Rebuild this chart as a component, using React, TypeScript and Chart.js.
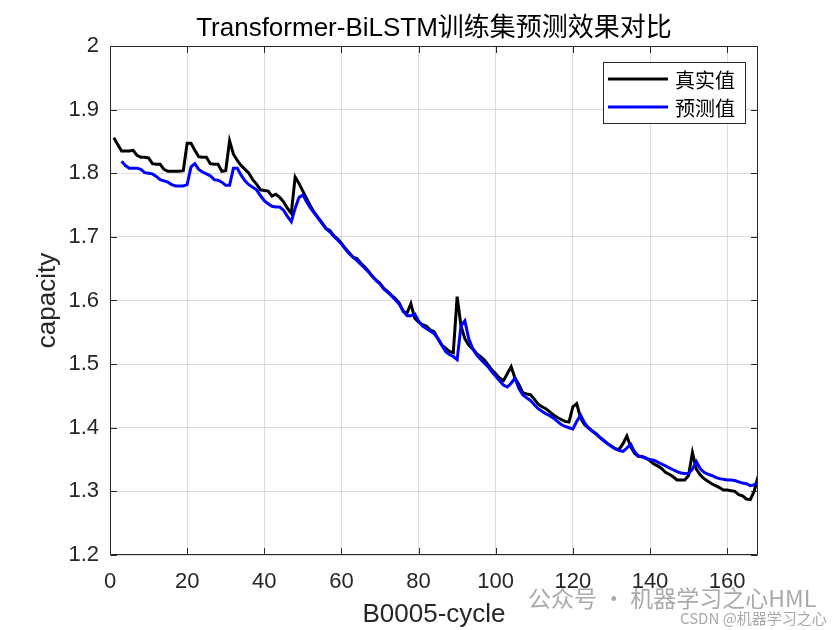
import React, { useEffect, useRef } from 'react';
import { Chart, registerables } from 'chart.js';

Chart.register(...registerables);

// ---------- data ----------
const actualStartCycle = 1;
const actualCapacity = [
  1.856, 1.845, 1.835, 1.835, 1.835, 1.836, 1.828, 1.825, 1.825, 1.824,
  1.815, 1.814, 1.814, 1.806, 1.803, 1.803, 1.803, 1.803, 1.804, 1.847,
  1.847, 1.836, 1.826, 1.825, 1.825, 1.815, 1.814, 1.814, 1.803, 1.804,
  1.851, 1.830, 1.820, 1.812, 1.806, 1.800, 1.790, 1.783, 1.774, 1.773,
  1.772, 1.764, 1.767, 1.762, 1.755, 1.745, 1.737, 1.794, 1.784, 1.772,
  1.760, 1.748, 1.738, 1.730, 1.722, 1.713, 1.710, 1.702, 1.697, 1.690,
  1.682, 1.675, 1.668, 1.666, 1.659, 1.653, 1.646, 1.638, 1.632, 1.627,
  1.619, 1.614, 1.608, 1.603, 1.596, 1.583, 1.580, 1.595, 1.572, 1.566,
  1.562, 1.560, 1.554, 1.551, 1.540, 1.530, 1.525, 1.520, 1.518, 1.606,
  1.560, 1.540, 1.530, 1.524, 1.517, 1.512, 1.507, 1.499, 1.491, 1.485,
  1.478, 1.474, 1.485, 1.496, 1.478, 1.468, 1.455, 1.453, 1.452, 1.445,
  1.437, 1.433, 1.430, 1.425, 1.420, 1.416, 1.413, 1.410, 1.409, 1.433,
  1.438, 1.415, 1.405, 1.400, 1.395, 1.390, 1.385, 1.380, 1.375, 1.371,
  1.367, 1.366, 1.375, 1.387, 1.370, 1.360, 1.355, 1.355, 1.352, 1.348,
  1.343, 1.340, 1.336, 1.330, 1.327, 1.323, 1.318, 1.318, 1.318, 1.325,
  1.361, 1.335, 1.326, 1.320, 1.316, 1.312, 1.309, 1.306, 1.302, 1.302,
  1.301, 1.300, 1.295, 1.293, 1.288, 1.287, 1.300, 1.323,
];

const predictedStartCycle = 3;
const predictedCapacity = [
  1.819, 1.812, 1.808, 1.808, 1.808, 1.806, 1.801, 1.800, 1.799, 1.795,
  1.790, 1.788, 1.786, 1.782, 1.780, 1.780, 1.780, 1.782, 1.810, 1.815,
  1.806, 1.802, 1.799, 1.796, 1.790, 1.789, 1.786, 1.781, 1.781, 1.808,
  1.808, 1.797, 1.788, 1.782, 1.778, 1.774, 1.765, 1.757, 1.752, 1.748,
  1.747, 1.747, 1.742, 1.732, 1.724, 1.745, 1.762, 1.766, 1.755, 1.745,
  1.737, 1.729, 1.721, 1.713, 1.708, 1.701, 1.695, 1.689, 1.681, 1.674,
  1.668, 1.663, 1.657, 1.651, 1.645, 1.638, 1.631, 1.626, 1.618, 1.613,
  1.607, 1.601, 1.594, 1.584, 1.576, 1.576, 1.579, 1.568, 1.560, 1.556,
  1.552, 1.548, 1.541, 1.530, 1.520, 1.515, 1.512, 1.507, 1.560, 1.568,
  1.540, 1.525, 1.515, 1.508, 1.502, 1.496, 1.488, 1.481, 1.474, 1.467,
  1.464, 1.470, 1.478, 1.462, 1.452, 1.447, 1.443, 1.436, 1.430, 1.426,
  1.422, 1.419, 1.415, 1.410, 1.405, 1.402, 1.400, 1.398, 1.410, 1.420,
  1.408, 1.400, 1.395, 1.391, 1.385, 1.380, 1.375, 1.371, 1.367, 1.364,
  1.363, 1.368, 1.374, 1.362, 1.356, 1.354, 1.352, 1.350, 1.349, 1.346,
  1.343, 1.340, 1.337, 1.334, 1.331, 1.329, 1.328, 1.328, 1.335, 1.347,
  1.336, 1.330, 1.327, 1.325, 1.322, 1.320, 1.319, 1.318, 1.318, 1.317,
  1.315, 1.313, 1.312, 1.309, 1.310, 1.315,
];

const seriesLabels = ['真实值', '预测值'];
const xTickValues = [0, 20, 40, 60, 80, 100, 120, 140, 160];
const yTickValues = [1.2, 1.3, 1.4, 1.5, 1.6, 1.7, 1.8, 1.9, 2.0];
const yTickLabels = ['1.2', '1.3', '1.4', '1.5', '1.6', '1.7', '1.8', '1.9', '2'];
const xRange = [0, 168];
const yRange = [1.2, 2.0];
const chartTitle = 'Transformer-BiLSTM训练集预测效果对比';
const xAxisTitle = 'B0005-cycle';
const yAxisTitle = 'capacity';
const watermarkMain = '公众号 · 机器学习之心HML';
const watermarkSub = 'CSDN @机器学习之心';

const SANS = '"Liberation Sans", Arial, "Noto Sans CJK SC", sans-serif';
const AXIS = '#262626';

const toPoints = (start: number, values: number[]) =>
  values.map((v, i) => ({ x: start + i, y: v }));

const framePlugin = {
  id: 'matlabFrame',
  afterDraw(chart: any) {
    const { ctx, chartArea } = chart;
    const { left, right, top, bottom } = chartArea;
    const xs = chart.scales.x;
    const ys = chart.scales.y;
    ctx.save();
    ctx.strokeStyle = AXIS;
    ctx.lineWidth = 1;
    const L = Math.round(left) + 0.5;
    const R = Math.round(right) - 0.5;
    const T = Math.round(top) + 0.5;
    const B = Math.round(bottom) - 0.5;
    ctx.beginPath();
    ctx.rect(L, T, R - L, B - T);
    // inward ticks
    const tl = 6.5;
    xTickValues.forEach((v) => {
      const px = Math.round(xs.getPixelForValue(v)) + 0.5;
      ctx.moveTo(px, B);
      ctx.lineTo(px, B - tl);
      ctx.moveTo(px, T);
      ctx.lineTo(px, T + tl);
    });
    yTickValues.forEach((v) => {
      const py = Math.round(ys.getPixelForValue(v)) + 0.5;
      ctx.moveTo(L, py);
      ctx.lineTo(L + tl, py);
      ctx.moveTo(R, py);
      ctx.lineTo(R - tl, py);
    });
    ctx.stroke();

    // title centred over the plot area
    ctx.fillStyle = '#000';
    ctx.font = `26px ${SANS}`;
    ctx.textAlign = 'center';
    ctx.textBaseline = 'middle';
    ctx.fillText(chartTitle, (left + right) / 2, 29);

    // legend
    const bx = 603.5, by = 62.5, bw = 142, bh = 61;
    ctx.fillStyle = '#ffffff';
    ctx.fillRect(bx, by, bw, bh);
    ctx.strokeStyle = AXIS;
    ctx.strokeRect(bx, by, bw, bh);
    const ds = chart.data.datasets;
    const legendOrder = [0, 1];
    legendOrder.forEach((di, row) => {
      const d = ds[di];
      const y = 79 + row * 28;
      ctx.strokeStyle = d.borderColor;
      ctx.lineWidth = 3;
      ctx.beginPath();
      ctx.moveTo(608, y);
      ctx.lineTo(668, y);
      ctx.stroke();
      ctx.fillStyle = '#000';
      ctx.font = '20px "Noto Sans CJK SC", sans-serif';
      ctx.textBaseline = 'middle';
      ctx.textAlign = 'left';
      ctx.fillText(d.label, 675, y + 1);
    });

    // watermark
    ctx.fillStyle = 'rgba(140,140,140,0.75)';
    ctx.font = '23px "Noto Sans CJK SC", sans-serif';
    ctx.textAlign = 'left';
    ctx.textBaseline = 'middle';
    ctx.fillText(watermarkMain, 528, 598);
    ctx.font = '15px "Noto Sans CJK SC", sans-serif';
    ctx.fillText(watermarkSub, 680, 618);
    ctx.restore();
  },
};

export default function App() {
  const ref = useRef<HTMLCanvasElement | null>(null);

  useEffect(() => {
    if (!ref.current) return;
    const chart = new Chart(ref.current, {
      type: 'line',
      data: {
        datasets: [
          {
            label: seriesLabels[0],
            data: toPoints(actualStartCycle, actualCapacity),
            borderColor: '#000000',
            backgroundColor: '#000000',
            borderWidth: 3,
            pointRadius: 0,
            tension: 0,
            order: 2,
          },
          {
            label: seriesLabels[1],
            data: toPoints(predictedStartCycle, predictedCapacity),
            borderColor: '#0000ff',
            backgroundColor: '#0000ff',
            borderWidth: 3,
            pointRadius: 0,
            tension: 0,
            order: 1,
          },
        ],
      },
      options: {
        responsive: false,
        animation: false,
        layout: { padding: { left: 0, right: 82, top: 46, bottom: 0 } },
        plugins: {
          legend: { display: false },
          tooltip: { enabled: false },
          title: { display: false },
        },
        scales: {
          x: {
            type: 'linear',
            min: xRange[0],
            max: xRange[1],
            afterBuildTicks: (s: any) => {
              s.ticks = xTickValues.map((v) => ({ value: v }));
            },
            afterFit: (s: any) => {
              s.height = 75;
            },
            ticks: {
              color: AXIS,
              font: { family: SANS, size: 22 },
              padding: 14,
              maxRotation: 0,
              autoSkip: false,
              callback: (v: any) => String(v),
            },
            grid: { color: '#dcdcdc', lineWidth: 1, drawTicks: false },
            border: { display: false },
            title: {
              display: true,
              text: xAxisTitle,
              color: AXIS,
              font: { family: SANS, size: 26, lineHeight: 1.2 },
              padding: { top: 0, bottom: 0 },
            },
          },
          y: {
            type: 'linear',
            min: yRange[0],
            max: yRange[1],
            afterBuildTicks: (s: any) => {
              s.ticks = yTickValues.map((v) => ({ value: v }));
            },
            afterFit: (s: any) => {
              s.width = 110;
            },
            ticks: {
              color: AXIS,
              font: { family: SANS, size: 22 },
              padding: 11,
              autoSkip: false,
              callback: (v: any) => {
                const i = yTickValues.findIndex((t) => Math.abs(t - v) < 1e-6);
                return i >= 0 ? yTickLabels[i] : '';
              },
            },
            grid: { color: '#dcdcdc', lineWidth: 1, drawTicks: false },
            border: { display: false },
            title: {
              display: true,
              text: yAxisTitle,
              color: AXIS,
              font: { family: SANS, size: 26, lineHeight: 1.2 },
              padding: { top: 32, bottom: 0 },
            },
          },
        },
      },
      plugins: [framePlugin],
    });
    return () => chart.destroy();
  }, []);

  return (
    <div style={{ position: 'fixed', left: 0, top: 0, width: 840, height: 630, background: '#fff' }}>
      <canvas ref={ref} width={840} height={630} style={{ width: 840, height: 630 }} />
    </div>
  );
}
